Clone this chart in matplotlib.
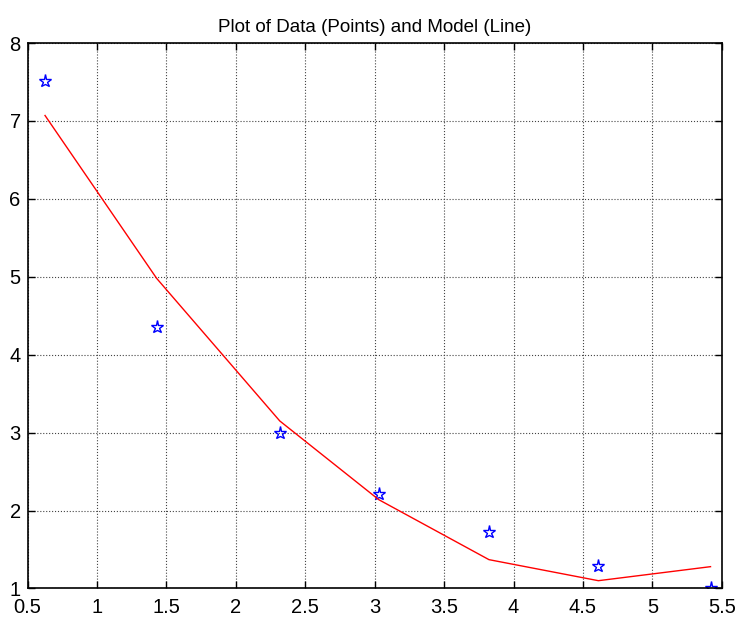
import matplotlib
matplotlib.use("Agg")
import matplotlib.pyplot as plt

plt.rcParams['font.family'] = ['Liberation Sans', 'DejaVu Sans']

# data (points) and model (line)
x_data = [0.625, 1.429, 2.316, 3.029, 3.823, 4.611, 5.419]
y_data = [7.51, 4.35, 2.99, 2.21, 1.72, 1.29, 1.00]
y_model = [7.07, 4.98, 3.15, 2.14, 1.37, 1.10, 1.28]

xticks = [0.5, 1, 1.5, 2, 2.5, 3, 3.5, 4, 4.5, 5, 5.5]
xtick_labels = ['0.5', '1', '1.5', '2', '2.5', '3', '3.5', '4', '4.5', '5', '5.5']
yticks = [1, 2, 3, 4, 5, 6, 7, 8]

fig = plt.figure(figsize=(7.38, 6.19), dpi=100)
ax = fig.add_axes([0.0375, 0.0493, 0.9405, 0.8812])

ax.plot(x_data, y_data, linestyle='none', marker='*', markersize=9.5,
        markerfacecolor='none', markeredgecolor='blue', markeredgewidth=1.0)
ax.plot(x_data, y_model, color='red', linewidth=1.0)

ax.set_xlim(0.5, 5.5)
ax.set_ylim(1, 8)
ax.set_xticks(xticks)
ax.set_xticklabels(xtick_labels)
ax.set_yticks(yticks)

ax.grid(True, linestyle=':', color='#444444', linewidth=0.8)
ax.tick_params(direction='in', top=True, right=True, length=5, width=1,
               labelsize=14.5)
ax.tick_params(axis='x', pad=6.5)
ax.tick_params(axis='y', pad=5)
for s in ax.spines.values():
    s.set_linewidth(1.2)

ax.set_title('Plot of Data (Points) and Model (Line)', fontsize=13.5, pad=8)

fig.savefig('out.png', dpi=100)
